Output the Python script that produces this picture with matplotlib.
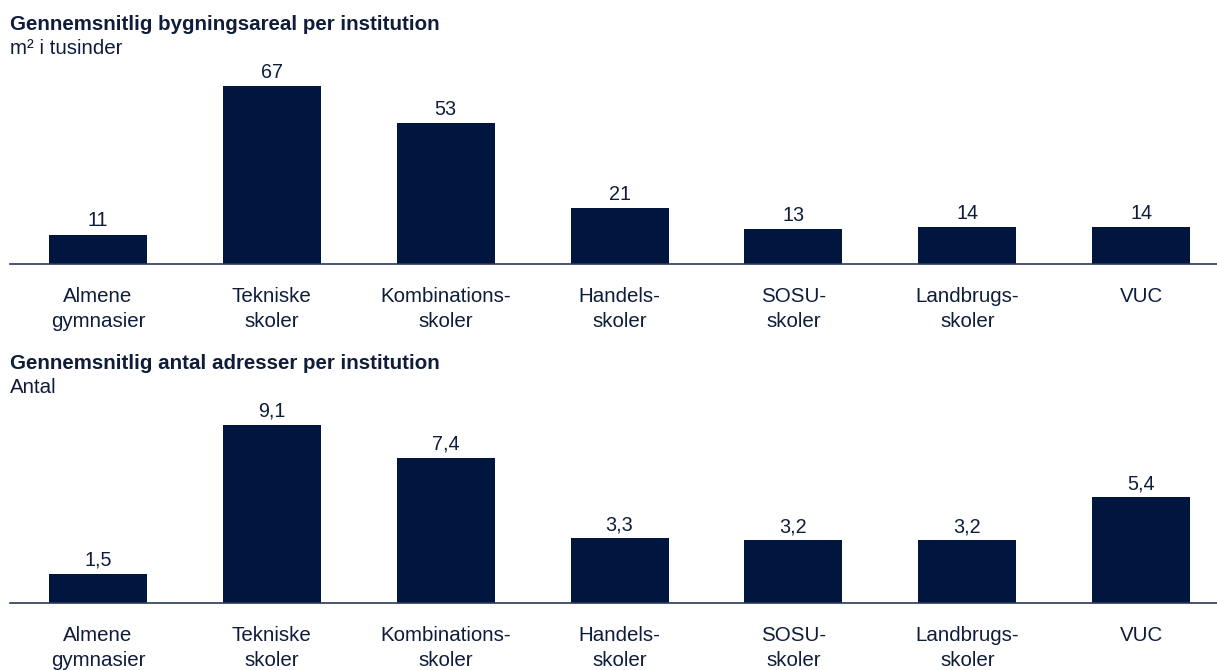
import matplotlib
matplotlib.use("Agg")
import matplotlib.pyplot as plt

plt.rcParams['font.family'] = ['Liberation Sans', 'DejaVu Sans']

categories = ["Almene\ngymnasier", "Tekniske\nskoler", "Kombinations-\nskoler",
              "Handels-\nskoler", "SOSU-\nskoler", "Landbrugs-\nskoler", "VUC"]
areal = [11, 67, 53, 21, 13, 14, 14]
areal_labels = ["11", "67", "53", "21", "13", "14", "14"]
adresser = [1.5, 9.1, 7.4, 3.3, 3.2, 3.2, 5.4]
adresser_labels = ["1,5", "9,1", "7,4", "3,3", "3,2", "3,2", "5,4"]

titles = ["Gennemsnitlig bygningsareal per institution",
          "Gennemsnitlig antal adresser per institution"]
subtitles = ["m\u00b2 i tusinder", "Antal"]

BAR = "#00163F"
TXT = "#0f1d3a"
AXC = "#2a3858"
FS = 14.8
FSV = 14.2

W, H = 1217, 670
fig = plt.figure(figsize=(W / 100, H / 100), dpi=100)

panels = [(areal, areal_labels, 264), (adresser, adresser_labels, 603)]
x = list(range(len(categories)))
step = 173.85
c0 = 98.0
for k, (vals, labs, base) in enumerate(panels):
    hpx = 194.0
    ax = fig.add_axes([10 / W, 1 - base / H, (W - 10) / W, hpx / H])
    ax.bar(x, vals, width=0.564, color=BAR)
    ax.set_xlim(-(c0 - 10) / step, (W - c0) / step)
    ax.set_ylim(0, max(vals) * hpx / 178.0)
    for s in ["top", "left", "right"]:
        ax.spines[s].set_visible(False)
    ax.spines["bottom"].set_color(AXC)
    ax.spines["bottom"].set_linewidth(1.2)
    ax.set_yticks([])
    ax.set_xticks([])
    for i, (v, lab) in enumerate(zip(vals, labs)):
        ax.annotate(lab, (i, v), xytext=(0, 8.3), textcoords="offset pixels",
                    ha="center", va="baseline", fontsize=FSV, color=TXT,
                    annotation_clip=False)
    for i, cat in enumerate(categories):
        for j, line in enumerate(cat.split("\n")):
            ax.annotate(line, (i, 0), xytext=(0, -38 - 25.4 * j),
                        textcoords="offset pixels", ha="center", va="baseline",
                        fontsize=FS, color=TXT, annotation_clip=False)
    top = base - 234
    fig.text(10 / W, 1 - (top - 0.5) / H, titles[k], fontsize=FS,
             fontweight="bold", color=TXT, va="baseline", ha="left")
    fig.text(10 / W, 1 - (top + 24) / H, subtitles[k], fontsize=FS,
             color=TXT, va="baseline", ha="left")

fig.savefig("out.png", dpi=100)
